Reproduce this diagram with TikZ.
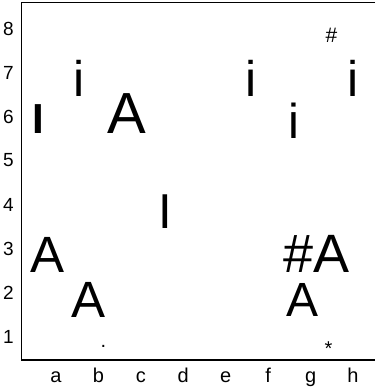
\documentclass[tikz,border=0pt]{standalone}
\usepackage{fontspec}
\setmainfont{Liberation Sans}
\tikzset{
  glyph/.style={inner sep=0pt, anchor=base, text=black},
  ranklabel/.style={inner sep=0pt, anchor=center, font=\fontsize{19}{20}\selectfont},
  filelabel/.style={inner sep=0pt, anchor=base, font=\fontsize{20}{22}\selectfont},
  frameline/.style={line width=1.1pt, draw=black}
}
\newcommand{\gsize}[1]{\fontsize{#1}{#1}\selectfont}

\begin{document}
\begin{tikzpicture}[x=1pt,y=-1pt]
  \useasboundingbox (0,0) rectangle (375,390);
  \draw[frameline] (375,2.7) -- (21.7,2.7) -- (21.7,360) -- (375,360);
  % rank and file labels
  \foreach \r in {1,...,8}
    \node[ranklabel] (rank\r) at (8.5,{336.5-44*(\r-1)}) {\r};
  \foreach \f [count=\i from 0] in {a,b,c,d,e,f,g,h}
    \node[filelabel] (file\f) at ({56+42.43*\i},382) {\f};
  % glyphs on the board
  \node[glyph, font=\gsize{42}\bfseries] (I-a6) at (38.5,134) {I};
  \node[glyph, font=\gsize{50}] (i-b7) at (79.5,97) {i};
  \node[glyph, font=\gsize{58}] (A-c6) at (126.5,134) {A};
  \node[glyph, font=\gsize{49}] (I-d4) at (165,228) {I};
  \node[glyph, font=\gsize{51}] (A-a3) at (48,272) {A};
  \node[glyph, font=\gsize{51}] (A-b2) at (89,317) {A};
  \node[glyph, font=\gsize{20}] (dot-b1) at (103.5,347) {.};
  \node[glyph, font=\gsize{50}] (i-f7) at (251.5,97) {i};
  \node[glyph, font=\gsize{49}] (i-g6) at (294,139) {i};
  \node[glyph, font=\gsize{50}] (i-h7) at (353,97) {i};
  \node[glyph, font=\gsize{21}] (hash-h8) at (331.5,43) {\#};
  \node[glyph, font=\gsize{54}] (hashA-g3) at (316.5,272) {\#A};
  \node[glyph, font=\gsize{48}] (A-g2) at (303,316.5) {A};
  \node[glyph, font=\gsize{20}] (star-h1) at (328.5,355) {*};
\end{tikzpicture}
\end{document}
